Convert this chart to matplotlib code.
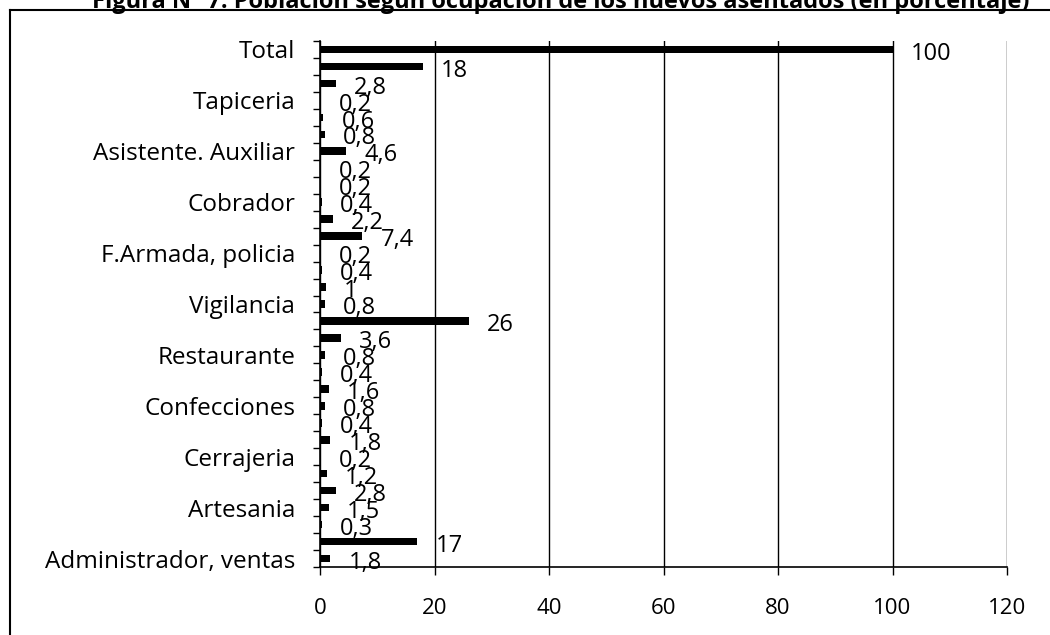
import matplotlib
matplotlib.use("Agg")
import matplotlib.pyplot as plt
from matplotlib.lines import Line2D
import numpy as np

plt.rcParams['font.family'] = ['Open Sans', 'DejaVu Sans']

# categories from bottom to top (only every third label is shown in the source chart)
categories = [
    "Administrador, ventas", "", "",
    "Artesania", "", "",
    "Cerrajeria", "", "",
    "Confecciones", "", "",
    "Restaurante", "", "",
    "Vigilancia", "", "",
    "F.Armada, policia", "", "",
    "Cobrador", "", "",
    "Asistente. Auxiliar", "", "",
    "Tapiceria", "", "",
    "Total",
]
# values from bottom to top
values = [
    1.8, 17, 0.3, 1.5, 2.8, 1.2, 0.2, 1.8, 0.4, 0.8,
    1.6, 0.4, 0.8, 3.6, 26, 0.8, 1, 0.4, 0.2, 7.4,
    2.2, 0.4, 0.2, 0.2, 4.6, 0.8, 0.6, 0.2, 2.8, 18,
    100,
]
xticks = [0, 20, 40, 60, 80, 100, 120]
title = "Figura N° 7: Población según ocupación de los nuevos asentados (en porcentaje)"

fig = plt.figure(figsize=(10.5, 6.35), dpi=100)
ax = fig.add_axes([320/1050, 1-567/635, (1007-320)/1050, (567-41)/635])

y = np.arange(len(values))
ax.barh(y, values, height=0.45, color="black", zorder=3)
ax.set_ylim(-0.5, len(values)-0.5)
ax.set_xlim(0, 120)

for yi, v in zip(y, values):
    lab = f"{v:g}".replace(".", ",")
    ax.annotate(lab, (v, yi), xytext=(13, -3), textcoords="offset points",
                ha="left", va="center", fontsize=17, color="black", zorder=4)

# y ticks: labels at centres, tick marks at boundaries
ax.set_yticks(y)
ax.set_yticklabels(categories, fontsize=17.5)
ax.tick_params(axis="y", which="major", length=0, pad=18)
ax.set_yticks(np.arange(-0.5, len(values), 1), minor=True)
ax.tick_params(axis="y", which="minor", length=5, width=1, direction="out", color="black")

ax.set_xticks(xticks)
ax.set_xticklabels([str(t) for t in xticks], fontsize=16)
ax.tick_params(axis="x", length=6, width=1, direction="out", pad=16, color="black")

ax.grid(axis="x", color="black", linewidth=1, zorder=1)
ax.grid(axis="y", visible=False)
for s in ["top", "right"]:
    ax.spines[s].set_visible(False)
for s in ["left", "bottom"]:
    ax.spines[s].set_color("black")
    ax.spines[s].set_linewidth(1.2)
    ax.spines[s].set_zorder(5)

# outer frame (top and left)
fig.add_artist(Line2D([10/1050, 1], [1-10/635, 1-10/635], color="black", linewidth=1.5,
                      transform=fig.transFigure))
fig.add_artist(Line2D([10/1050, 10/1050], [0, 1-10/635], color="black", linewidth=1.5,
                      transform=fig.transFigure))

# cropped title at the very top (as in the source image)
fig.text(1030/1050, 1-8/635, title, ha="right", va="baseline", fontsize=17,
         fontweight="bold", color="black")

fig.savefig("out.png", dpi=100, facecolor="white")
